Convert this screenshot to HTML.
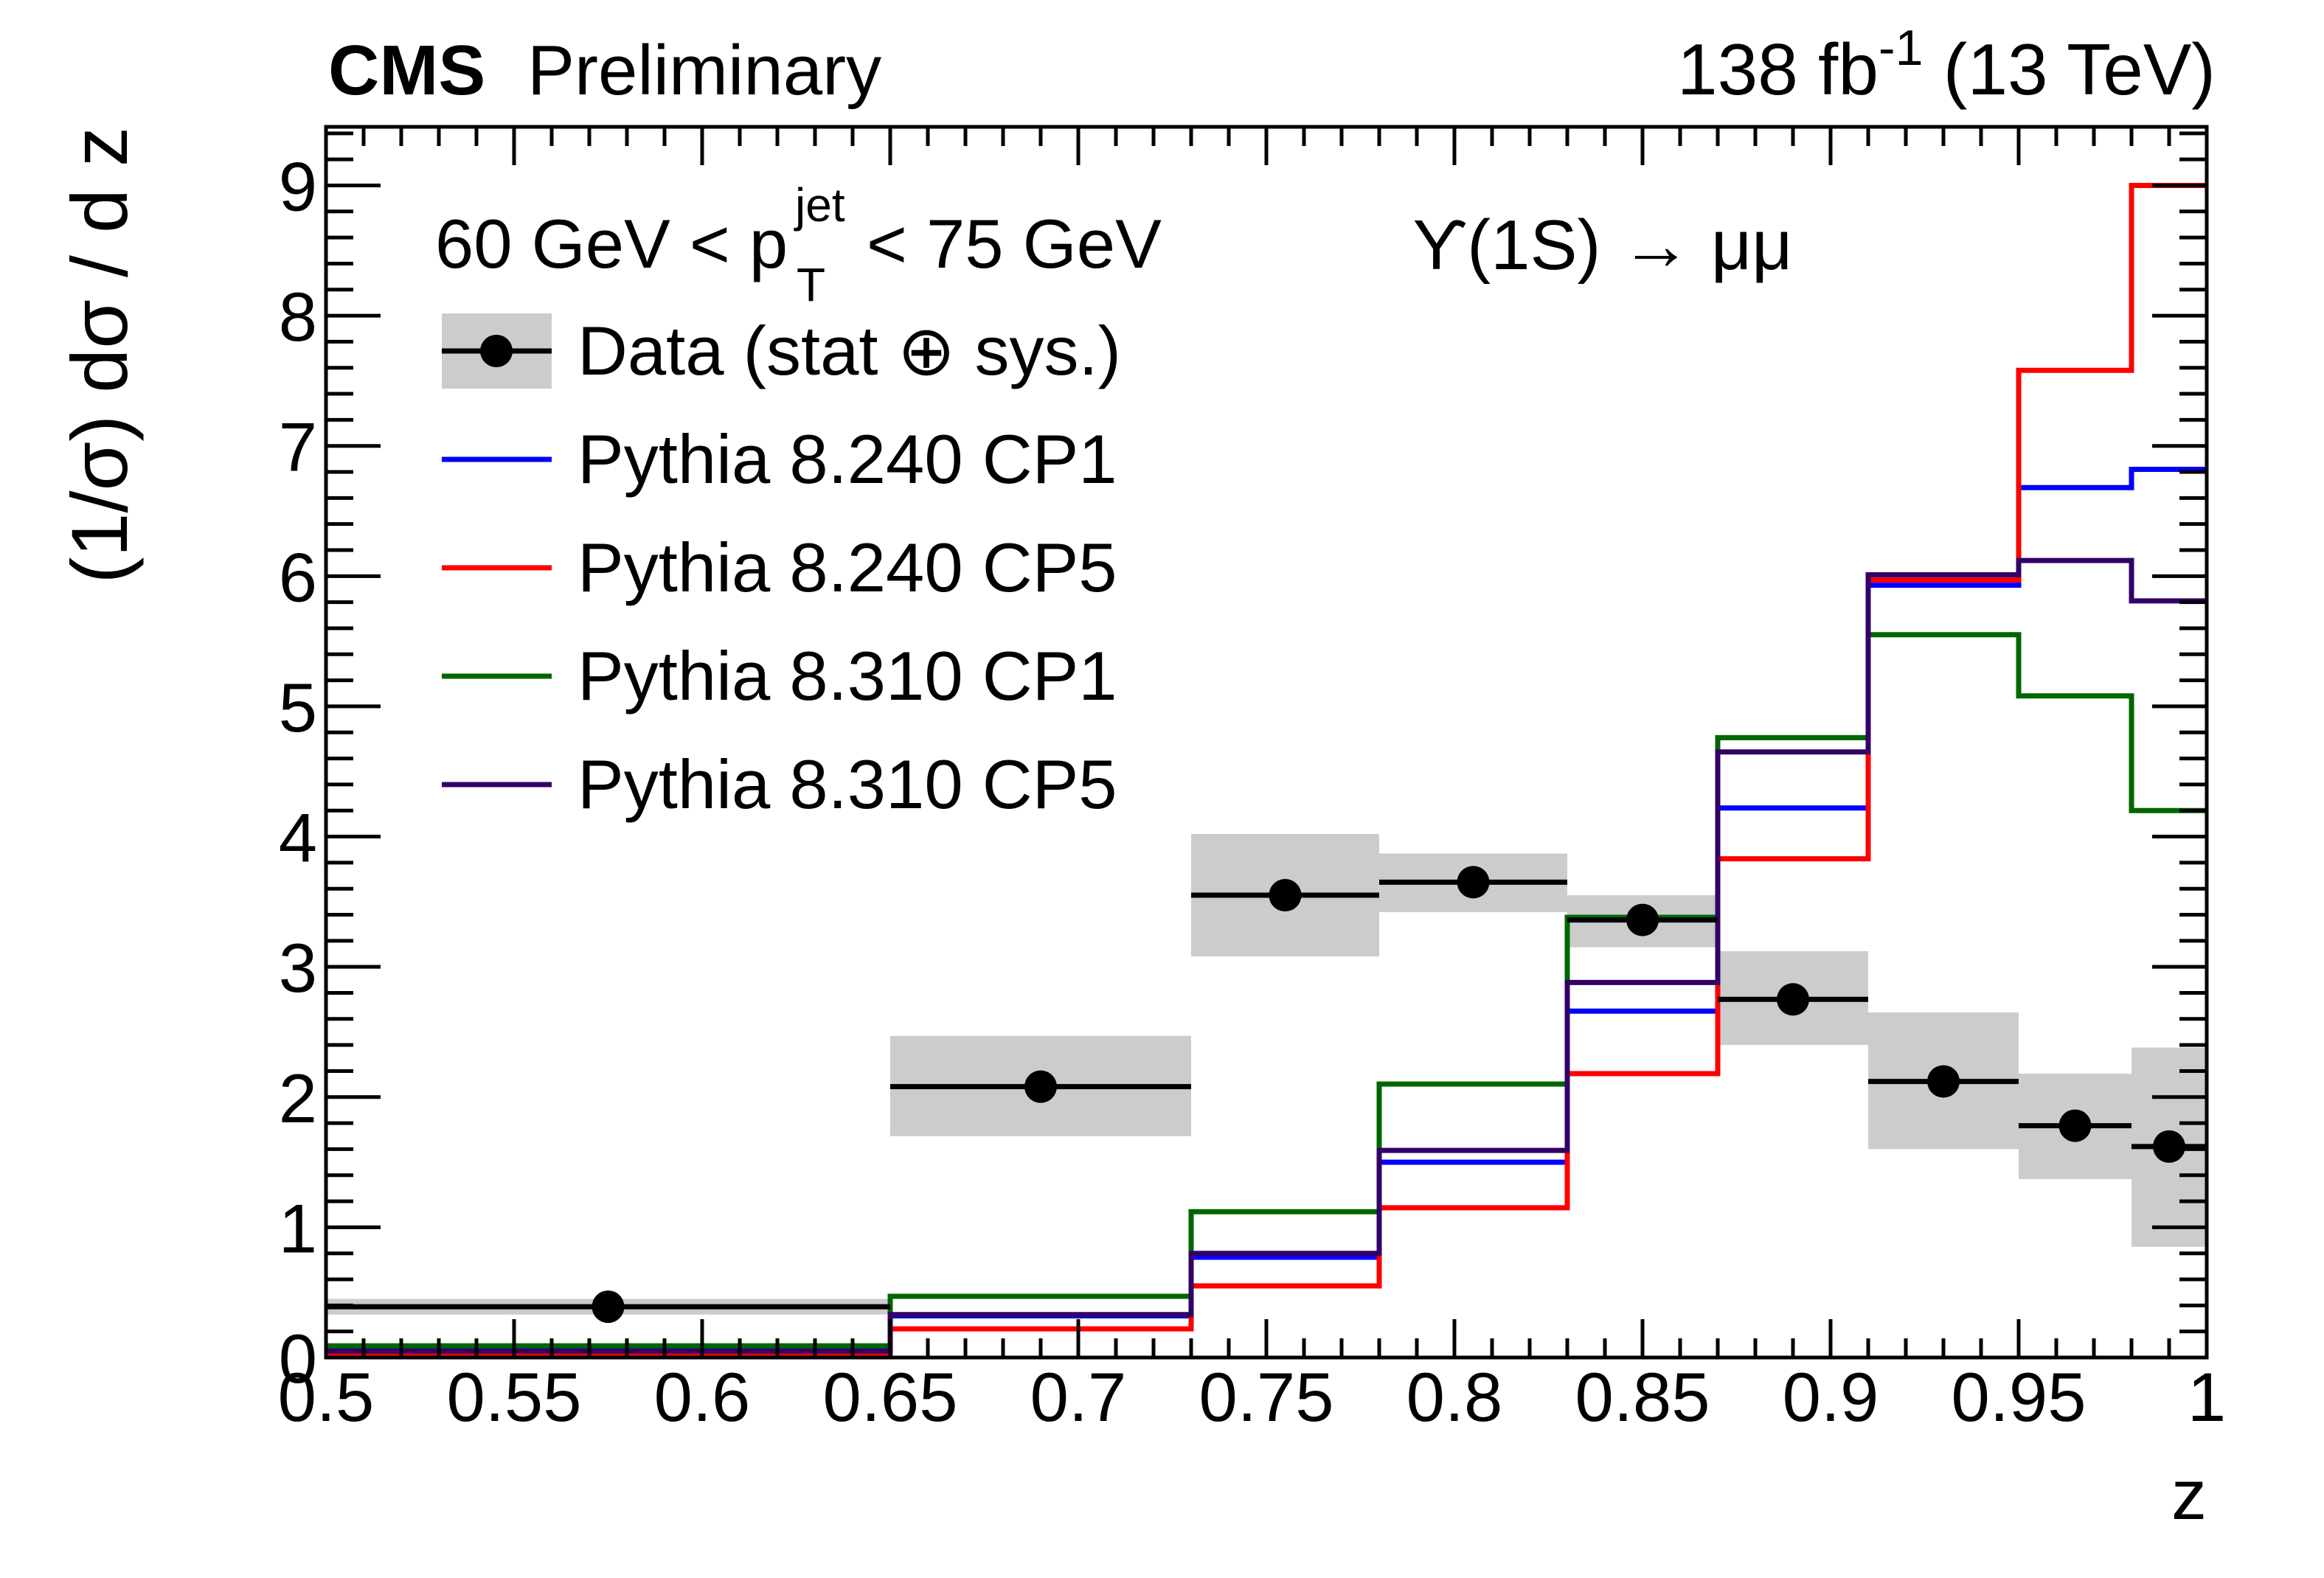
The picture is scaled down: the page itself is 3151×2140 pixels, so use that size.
<!DOCTYPE html>
<html><head><meta charset="utf-8"><style>
html,body{margin:0;padding:0;background:#fff;}
svg{display:block;font-family:"Liberation Sans",sans-serif;}
</style></head><body>
<svg id="chart" xmlns="http://www.w3.org/2000/svg" width="3151" height="2140" viewBox="0 0 3151 2140">
<rect width="3151" height="2140" fill="#fff"/>
<g id="bands"></g>
<g id="hists"></g>
<g id="data"></g>
<g id="axes"></g>
<text x="445" y="128" font-size="96" font-weight="bold">CMS</text>
<text x="715" y="128" font-size="96">Preliminary</text>
<text x="3004" y="128" font-size="98" text-anchor="end" textLength="730" lengthAdjust="spacingAndGlyphs">138 fb<tspan dy="-40" font-size="68">-1</tspan><tspan dy="40"> (13 TeV)</tspan></text>
<g>
<text x="590" y="363" font-size="94">60 GeV &lt; p</text>
<text x="1078" y="300" font-size="64">jet</text>
<text x="1080" y="408" font-size="64">T</text>
<text x="1175" y="363" font-size="94">&lt; 75 GeV</text>
</g>
<text x="1915" y="365" font-size="96">ϒ(1S) → μμ</text>
<text transform="translate(172,172) rotate(-90)" font-size="108" text-anchor="end">(1/σ) dσ / d z</text>
<text x="2992" y="2060" font-size="96" text-anchor="end">z</text>
<g id="legend">
<g>
<rect x="599" y="425" width="149" height="102" fill="#cccccc"/>
<line x1="599" y1="476" x2="748" y2="476" stroke="#000" stroke-width="7"/>
<circle cx="673" cy="476" r="22" fill="#000"/>
<text x="783" y="508" font-size="94">Data (stat ⊕ sys.)</text>
</g>
<g>
<line x1="599" y1="623" x2="748" y2="623" stroke="#0000ff" stroke-width="7"/>
<text x="783" y="655" font-size="94">Pythia 8.240 CP1</text></g>
<g>
<line x1="599" y1="770" x2="748" y2="770" stroke="#ff0000" stroke-width="7"/>
<text x="783" y="802" font-size="94">Pythia 8.240 CP5</text></g>
<g>
<line x1="599" y1="917" x2="748" y2="917" stroke="#006600" stroke-width="7"/>
<text x="783" y="949" font-size="94">Pythia 8.310 CP1</text></g>
<g>
<line x1="599" y1="1064" x2="748" y2="1064" stroke="#330066" stroke-width="7"/>
<text x="783" y="1096" font-size="94">Pythia 8.310 CP5</text></g>
</g>
</svg>
<script>
const binEdges = [0.5, 0.65, 0.73, 0.78, 0.83, 0.87, 0.91, 0.95, 0.98, 1.0];
const dataX = [0.575, 0.69, 0.755, 0.805, 0.85, 0.89, 0.93, 0.965, 0.99];
const dataY = [0.39, 2.08, 3.55, 3.65, 3.36, 2.75, 2.12, 1.78, 1.62];
const dataLo = [0.33, 1.70, 3.08, 3.42, 3.15, 2.40, 1.60, 1.37, 0.85];
const dataHi = [0.45, 2.47, 4.02, 3.87, 3.55, 3.12, 2.65, 2.18, 2.38];
const p8240cp1 = [0.05, 0.32, 0.77, 1.50, 2.66, 4.22, 5.93, 6.68, 6.82];
const p8240cp5 = [0.03, 0.22, 0.55, 1.15, 2.18, 3.83, 5.97, 7.58, 9.00];
const p8310cp1 = [0.09, 0.47, 1.12, 2.10, 3.38, 4.76, 5.55, 5.08, 4.20];
const p8310cp5 = [0.05, 0.33, 0.80, 1.59, 2.88, 4.65, 6.01, 6.12, 5.81];
const xTickLabels = ["0.5","0.55","0.6","0.65","0.7","0.75","0.8","0.85","0.9","0.95","1"];
const yTickLabels = ["0","1","2","3","4","5","6","7","8","9"];

const NS = "http://www.w3.org/2000/svg";
const L = 442, R = 2992, T = 172, B = 1841;
const xMin = 0.5, xMax = 1.0, yMin = 0, yMax = 9.45;
function sx(v){ return L + (v - xMin) / (xMax - xMin) * (R - L); }
function sy(v){ return B - (v - yMin) / (yMax - yMin) * (B - T); }
function mk(tag, attrs, parent){ const e = document.createElementNS(NS, tag); for (const k in attrs) e.setAttribute(k, attrs[k]); parent.appendChild(e); return e; }

const bands = document.getElementById('bands');
for (let i = 0; i < dataY.length; i++) {
  const r = mk('rect', {x: sx(binEdges[i]), y: sy(dataHi[i]), width: sx(binEdges[i+1]) - sx(binEdges[i]), height: sy(dataLo[i]) - sy(dataHi[i]), fill: '#cccccc'}, bands);
  
  
}

const hists = document.getElementById('hists');
const series = [[p8310cp1,'#006600','pythia8310-cp1'],[p8240cp1,'#0000ff','pythia8240-cp1'],[p8240cp5,'#ff0000','pythia8240-cp5'],[p8310cp5,'#330066','pythia8310-cp5']];
series.forEach(([vals,col,nm]) => {
  let d = '';
  for (let i = 0; i < vals.length; i++) {
    const x0 = sx(binEdges[i]), x1 = sx(binEdges[i+1]), y = sy(vals[i]);
    d += (i === 0 ? 'M' : 'L') + x0 + ' ' + y + ' L' + x1 + ' ' + y + ' ';
  }
  const p = mk('path', {d: d, fill: 'none', stroke: col, 'stroke-width': 7, 'stroke-linejoin': 'miter'}, hists);
  
  
});

const dg = document.getElementById('data');
for (let i = 0; i < dataY.length; i++) {
  const ln = mk('line', {x1: sx(binEdges[i]), x2: sx(binEdges[i+1]), y1: sy(dataY[i]), y2: sy(dataY[i]), stroke: '#000', 'stroke-width': 7}, dg);
  
  
  const c = mk('circle', {cx: sx(dataX[i]), cy: sy(dataY[i]), r: 22, fill: '#000'}, dg);
  
  
}

const ax = document.getElementById('axes');
mk('rect', {x: L, y: T, width: R - L, height: B - T, fill: 'none', stroke: '#000', 'stroke-width': 5}, ax);
for (let k = 0; k <= 47; k++) {
  const v = k * 0.2; if (v > yMax) break;
  const y = sy(v), major = (k % 5 === 0), len = major ? 74 : 37;
  mk('line', {x1: L, x2: L + len, y1: y, y2: y, stroke: '#000', 'stroke-width': 5}, ax);
  mk('line', {x1: R, x2: R - len, y1: y, y2: y, stroke: '#000', 'stroke-width': 5}, ax);
}
yTickLabels.forEach((lab) => {
  const t = mk('text', {x: 430, y: sy(+lab) + 34, 'font-size': 94, 'text-anchor': 'end'}, ax);
  t.textContent = lab;
  
  
});
for (let k = 0; k <= 50; k++) {
  const v = 0.5 + k * 0.01, x = sx(v), major = (k % 5 === 0), len = major ? 52 : 26;
  mk('line', {x1: x, x2: x, y1: B, y2: B - len, stroke: '#000', 'stroke-width': 5}, ax);
  mk('line', {x1: x, x2: x, y1: T, y2: T + len, stroke: '#000', 'stroke-width': 5}, ax);
}
xTickLabels.forEach(lab => {
  const t = mk('text', {x: sx(+lab), y: 1927, 'font-size': 94, 'text-anchor': 'middle'}, ax);
  t.textContent = lab;
  
  
});
</script>
</body></html>
